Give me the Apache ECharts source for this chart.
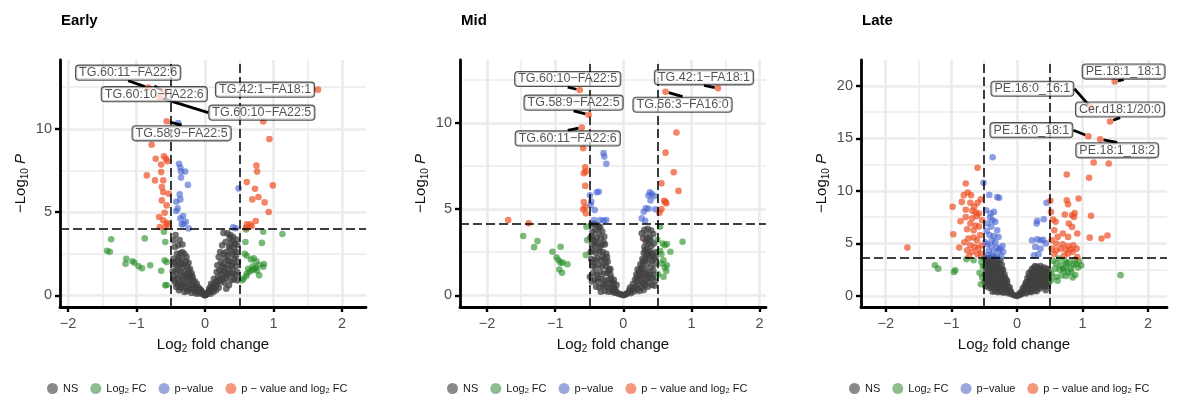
<!DOCTYPE html>
<html>
<head>
<meta charset="utf-8">
<script src="https://cdn.jsdelivr.net/npm/echarts@6/dist/echarts.min.js"></script>
<style>
  html, body { margin: 0; padding: 0; background: #ffffff; }
  #chart { width: 1191px; height: 400px; }
</style>
</head>
<body>
<div id="chart"></div>
<script>
// ---- Volcano data: [log2 fold change, -log10 p] ----
const panelTitles = ['Early', 'Mid', 'Late'];
const legendNames = ['NS', 'Log2 FC', 'p\u2212value', 'p \u2212 value and log2 FC'];
const xTicks = [-2, -1, 0, 1, 2];
const yTicksEarly = [0, 5, 10];
const yTicksMid = [0, 5, 10];
const yTicksLate = [0, 5, 10, 15, 20];
const fcCutoff = 0.5;
const pCutoffs = [4.0, 4.17, 3.66];

// Early
const earlyNS = [
  [-0.46,3.3],[-0.43,3.62],[-0.37,3.32],[-0.33,3.05],[-0.44,2.9],[-0.41,2.5],[-0.36,2.52],[-0.3,2.48],
  [-0.46,2.2],[-0.4,2.1],[-0.34,2.15],[-0.28,2.05],[-0.45,1.85],[-0.41,1.72],[-0.37,1.8],[-0.32,1.7],
  [-0.26,1.75],[-0.22,1.6],[-0.47,1.45],[-0.43,1.4],[-0.39,1.5],[-0.35,1.38],[-0.3,1.42],[-0.25,1.3],
  [-0.2,1.35],[-0.45,1.1],[-0.4,1.05],[-0.36,1.15],[-0.32,1.0],[-0.27,1.08],[-0.23,0.98],[-0.18,1.05],
  [-0.15,0.85],[-0.44,0.8],[-0.38,0.75],[-0.34,0.82],[-0.29,0.7],[-0.25,0.76],[-0.21,0.65],[-0.17,0.6],
  [-0.13,0.55],[-0.42,0.5],[-0.36,0.45],[-0.31,0.5],[-0.27,0.42],[-0.23,0.4],[-0.19,0.35],[-0.15,0.3],
  [-0.11,0.28],[-0.08,0.2],[-0.05,0.12],[-0.03,0.06],[-0.3,0.2],[-0.26,0.25],[-0.2,0.15],[-0.14,0.12],
  [-0.1,0.1],[-0.38,0.3],[-0.33,2.6],[-0.27,2.3],[-0.39,3.0],[-0.24,1.95],[-0.19,1.2],[-0.12,0.7],
  [-0.09,0.45],[-0.06,0.3],[-0.01,0.02],[0.0,0.0],[0.01,0.03],
  [-0.44,2.0],[-0.38,2.3],[-0.35,1.95],[-0.31,1.85],[-0.29,1.2],[-0.24,1.5],[-0.22,1.15],[-0.18,0.85],
  [-0.16,0.45],[-0.12,0.4],[-0.07,0.35],[-0.04,0.2],[-0.34,0.6],[-0.4,0.65],[-0.46,0.95],
  [0.02,0.05],[0.04,0.15],[0.06,0.25],[0.08,0.1],[0.1,0.35],[0.12,0.2],[0.14,0.5],[0.16,0.3],
  [0.11,0.6],[0.15,0.8],[0.18,0.65],[0.2,0.45],[0.22,0.9],[0.19,1.1],[0.24,1.25],[0.21,1.5],
  [0.26,1.05],[0.28,0.75],[0.25,1.7],[0.23,2.0],[0.27,1.9],[0.3,1.4],[0.32,1.15],[0.29,2.25],
  [0.31,2.6],[0.33,1.8],[0.35,1.55],[0.34,2.4],[0.36,2.05],[0.38,1.3],[0.4,1.6],[0.37,2.8],
  [0.39,2.5],[0.41,1.95],[0.43,2.2],[0.45,1.75],[0.42,2.9],[0.44,3.1],[0.46,2.6],[0.47,1.4],
  [0.4,3.3],[0.36,3.45],[0.3,3.2],[0.27,3.75],[0.33,3.72],[0.37,3.62],[0.41,3.5],[0.46,3.35],
  [0.25,3.0],[0.22,2.6],[0.2,2.3],[0.18,1.8],[0.17,1.4],[0.13,1.0],[0.09,0.7],[0.07,0.45],
  [0.48,2.0],[0.45,1.2],[0.42,0.95],[0.38,0.9],[0.35,0.6],[0.31,0.4],[0.47,0.9],
  [0.03,0.1],[0.06,0.35],[0.09,0.3],[0.13,0.4],[0.16,0.6],[0.19,0.9],[0.24,0.85],[0.26,1.45],
  [0.29,1.65],[0.33,2.1],[0.35,2.9],[0.38,3.1],[0.43,2.6],[0.45,2.35],[0.47,3.0],[0.39,1.8],
  [0.34,1.3],[0.3,1.0],[0.27,2.5],[0.42,1.3]
];
const earlyFC = [
  [-1.43,2.67],[-1.39,2.61],[-1.37,3.37],[-1.15,2.2],[-1.16,1.9],[-1.06,2.05],[-1.03,1.95],[-0.97,1.75],
  [-0.92,1.62],[-0.88,3.42],[-0.8,1.8],[-0.64,1.47],[-0.6,3.82],[-0.58,3.2],[-0.59,2.1],[-0.56,2.0],
  [-0.58,0.6],[-0.56,0.62],
  [0.6,3.95],[0.85,3.82],[1.13,3.68],[0.59,3.2],[0.83,3.15],[0.58,2.5],[0.61,2.38],[0.67,2.15],
  [0.71,2.22],[0.75,2.05],[0.79,1.82],[0.85,1.72],[0.86,1.88],[0.56,1.0],[0.61,1.3],[0.65,1.42],
  [0.68,1.52],[0.72,1.56],[0.76,1.48],[0.79,1.2],[0.54,0.9],[0.6,1.15],[0.63,1.6],[0.7,1.75],[0.74,1.65]
];
const earlyP = [
  [-0.39,10.34],[-0.38,7.9],[-0.36,7.67],[-0.35,7.43],[-0.29,7.43],[-0.35,7.07],[-0.25,6.63],[-0.37,6.06],
  [-0.42,5.62],[-0.36,5.76],[-0.4,5.22],[-0.42,5.06],[-0.32,4.76],[-0.36,4.62],[-0.28,4.42],[-0.34,4.26],
  [-0.31,4.28],[-0.24,4.02],
  [0.49,6.42],[0.41,4.08],[0.45,4.03]
];
const earlyBoth = [
  [-0.78,9.04],[-0.6,8.35],[-0.57,8.2],[-0.55,8.05],[-0.72,8.2],[-0.64,7.85],[-0.64,7.4],[-0.85,7.2],
  [-0.73,6.9],[-0.61,6.9],[-0.63,6.5],[-0.61,6.2],[-0.53,6.1],[-0.63,5.7],[-0.56,5.4],[-0.59,4.96],
  [-0.67,4.7],[-0.61,4.5],[-0.56,4.36],[-0.66,4.1],[-0.58,4.1],[-0.54,4.25],
  [0.85,10.44],[0.94,9.38],[0.75,7.8],[0.76,7.43],[0.61,6.8],[0.99,6.6],[0.73,6.4],[0.78,5.9],
  [0.69,5.76],[0.87,5.58],[0.93,5.0],[0.74,4.46],[0.61,4.26],[0.66,4.26],[0.68,4.15],[0.6,4.05]
];
const earlyLabels = [
  ['TG.60:11\u2212FA22:6', -0.83, 12.47],
  ['TG.60:10\u2212FA22:6', -0.58, 12.2],
  ['TG.60:10\u2212FA22:5', -0.66, 11.87],
  ['TG.58:9\u2212FA22:5', -0.56, 10.45],
  ['TG.42:1\u2212FA18:1', 1.65, 12.35]
];

// Mid
const midNS = [
  [-0.47,4.1],[-0.43,4.15],[-0.38,4.05],[-0.34,3.95],[-0.45,3.7],[-0.41,3.8],[-0.36,3.6],[-0.31,3.7],
  [-0.48,3.35],[-0.44,3.2],[-0.39,3.35],[-0.33,3.3],[-0.28,3.4],[-0.46,2.95],[-0.42,2.85],[-0.37,3.0],
  [-0.32,2.9],[-0.27,2.95],[-0.48,2.5],[-0.44,2.6],[-0.4,2.45],[-0.35,2.55],[-0.3,2.5],[-0.25,2.4],
  [-0.47,2.1],[-0.42,2.05],[-0.38,2.15],[-0.33,2.0],[-0.28,2.1],[-0.23,1.95],[-0.45,1.7],[-0.41,1.6],
  [-0.36,1.75],[-0.31,1.65],[-0.26,1.7],[-0.21,1.55],[-0.49,1.07],[-0.44,1.3],[-0.39,1.2],[-0.34,1.35],
  [-0.29,1.25],[-0.24,1.3],[-0.19,1.2],[-0.42,0.9],[-0.37,0.8],[-0.32,0.95],[-0.27,0.85],[-0.22,0.9],
  [-0.17,0.8],[-0.4,0.5],[-0.35,0.45],[-0.3,0.55],[-0.25,0.5],[-0.2,0.45],[-0.15,0.5],[-0.12,0.35],
  [-0.33,0.2],[-0.27,0.25],[-0.22,0.2],[-0.17,0.2],[-0.13,0.15],[-0.09,0.12],[-0.06,0.08],[-0.03,0.04],
  [-0.36,3.95],[-0.29,3.05],[-0.24,2.2],[-0.19,1.5],[-0.14,0.9],[-0.1,0.6],[0.0,0.0],
  [-0.46,3.45],[-0.41,3.1],[-0.35,2.75],[-0.31,2.25],[-0.26,1.9],[-0.22,1.4],[-0.18,1.0],[-0.14,0.7],
  [-0.11,0.25],[-0.37,1.0],[-0.43,1.9],[-0.46,0.8],[-0.28,0.65],[-0.2,0.65],[-0.16,0.35],
  [0.02,0.03],[0.05,0.1],[0.08,0.18],[0.11,0.12],[0.13,0.3],[0.16,0.22],[0.1,0.45],[0.14,0.65],
  [0.18,0.5],[0.21,0.35],[0.24,0.25],[0.17,0.9],[0.2,0.8],[0.23,0.6],[0.27,0.45],[0.3,0.3],
  [0.19,1.2],[0.22,1.1],[0.25,0.95],[0.28,0.8],[0.32,0.6],[0.36,0.5],[0.21,1.5],[0.24,1.4],
  [0.27,1.25],[0.3,1.1],[0.34,0.95],[0.38,0.75],[0.42,0.6],[0.25,1.8],[0.28,1.7],[0.31,1.55],
  [0.35,1.35],[0.39,1.2],[0.43,1.0],[0.47,0.85],[0.28,2.1],[0.32,2.0],[0.36,1.85],[0.4,1.6],
  [0.44,1.45],[0.3,2.45],[0.34,2.35],[0.38,2.2],[0.42,2.0],[0.46,1.8],[0.31,2.8],[0.35,2.7],
  [0.39,2.55],[0.43,2.4],[0.47,2.2],[0.33,3.1],[0.37,3.0],[0.41,2.85],[0.45,3.0],[0.29,3.3],
  [0.34,3.5],[0.39,3.35],[0.44,3.55],[0.31,3.8],[0.36,3.85],[0.41,3.75],[0.27,3.6],
  [0.04,0.06],[0.09,0.3],[0.15,0.4],[0.2,1.0],[0.23,1.3],[0.26,1.55],[0.29,1.95],[0.33,2.2],
  [0.37,2.45],[0.41,2.3],[0.45,2.1],[0.48,2.5],[0.4,3.2],[0.35,3.25],[0.32,2.6],[0.38,1.0],
  [0.44,1.2],[0.46,0.55],[0.33,1.25],[0.3,0.7]
];
const midFC = [
  [-1.47,3.43],[-1.26,3.14],[-1.31,2.79],[-0.92,2.81],[-1.04,2.52],[-0.98,2.19],[-0.95,2.03],[-0.92,1.88],
  [-0.89,1.9],[-0.82,1.8],[-0.94,1.49],[-0.9,1.3],[-0.54,3.97],[-0.53,3.2],[-0.55,2.33],
  [0.54,3.97],[0.5,3.2],[0.58,3.0],[0.69,2.52],[0.87,3.1],[0.61,2.9],[0.64,2.97],[0.54,2.58],
  [0.56,2.38],[0.59,2.03],[0.56,1.84],[0.64,1.74],[0.61,1.6],[0.51,1.22],[0.59,1.07],[0.63,1.4]
];
const midP = [
  [-0.29,8.24],[-0.28,8.04],[-0.25,7.62],[-0.39,5.97],[-0.36,6.0],[-0.49,5.8],[-0.47,5.43],[-0.48,5.23],
  [-0.42,4.94],[-0.43,4.36],[-0.34,4.36],[-0.29,4.33],[-0.25,4.36],
  [0.39,5.97],[0.42,5.87],[0.37,5.78],[0.4,5.5],[0.33,5.04],[0.37,5.02],[0.3,4.84],[0.47,4.98],
  [0.27,4.46],[0.32,4.32],[0.46,5.75]
];
const midBoth = [
  [-0.59,8.53],[-0.56,7.42],[-0.55,7.17],[-0.58,7.08],[-0.56,6.34],[-0.58,5.4],[-0.56,5.1],[-0.59,4.98],
  [-0.55,4.75],[-1.69,4.36],[-1.39,4.17],
  [0.78,9.44],[0.62,8.27],[0.74,7.13],[0.56,6.49],[0.81,6.05],[0.6,5.48],[0.63,5.33],[0.56,4.98],
  [0.53,4.79],[0.62,5.4]
];
const midLabels = [
  ['TG.60:10\u2212FA22:5', -0.64, 11.9],
  ['TG.58:9\u2212FA22:5', -0.51, 10.47],
  ['TG.60:11\u2212FA22:6', -0.61, 9.73],
  ['TG.42:1\u2212FA18:1', 1.39, 12.0],
  ['TG.56:3\u2212FA16:0', 0.62, 11.8]
];

// Late
const lateNS = [
  [-0.49,3.6],[-0.45,3.55],[-0.41,3.62],[-0.37,3.5],[-0.33,3.58],[-0.29,3.45],[-0.25,3.4],[-0.47,3.2],
  [-0.43,3.25],[-0.39,3.15],[-0.35,3.2],[-0.31,3.1],[-0.27,3.05],[-0.23,2.95],[-0.49,2.8],[-0.45,2.85],
  [-0.41,2.75],[-0.37,2.8],[-0.33,2.7],[-0.29,2.75],[-0.25,2.6],[-0.21,2.5],[-0.47,2.4],[-0.43,2.35],
  [-0.39,2.45],[-0.35,2.3],[-0.31,2.4],[-0.27,2.25],[-0.23,2.2],[-0.19,2.05],[-0.49,2.0],[-0.45,1.95],
  [-0.41,2.05],[-0.37,1.9],[-0.33,2.0],[-0.29,1.85],[-0.25,1.9],[-0.21,1.75],[-0.17,1.6],[-0.47,1.6],
  [-0.43,1.55],[-0.39,1.65],[-0.35,1.5],[-0.31,1.6],[-0.27,1.45],[-0.23,1.5],[-0.19,1.35],[-0.15,1.2],
  [-0.45,1.2],[-0.41,1.15],[-0.37,1.25],[-0.33,1.1],[-0.29,1.2],[-0.25,1.05],[-0.21,1.1],[-0.17,0.95],
  [-0.13,0.85],[-0.43,0.8],[-0.39,0.75],[-0.35,0.85],[-0.31,0.7],[-0.27,0.75],[-0.23,0.65],[-0.19,0.7],
  [-0.15,0.55],[-0.11,0.5],[-0.37,0.4],[-0.33,0.45],[-0.29,0.35],[-0.25,0.4],[-0.21,0.3],[-0.17,0.35],
  [-0.13,0.25],[-0.09,0.22],[-0.06,0.12],[-0.03,0.05],[-0.48,0.95],[0.0,0.0],
  [-0.47,3.45],[-0.43,3.0],[-0.39,3.4],[-0.35,2.6],[-0.31,2.95],[-0.27,2.5],[-0.23,2.45],[-0.19,1.8],
  [-0.15,1.45],[-0.11,0.8],[-0.41,1.4],[-0.37,2.15],[-0.33,1.3],[-0.29,1.0],[-0.25,1.25],[-0.21,0.9],
  [-0.45,2.55],[-0.49,1.35],[-0.09,0.4],
  [0.02,0.04],[0.05,0.12],[0.08,0.2],[0.11,0.3],[0.14,0.25],[0.07,0.4],[0.1,0.55],[0.13,0.7],
  [0.16,0.5],[0.19,0.4],[0.22,0.35],[0.12,0.9],[0.15,1.05],[0.18,0.85],[0.21,0.7],[0.24,0.6],
  [0.27,0.5],[0.3,0.45],[0.14,1.3],[0.17,1.4],[0.2,1.2],[0.23,1.05],[0.26,0.95],[0.29,0.85],
  [0.32,0.75],[0.35,0.7],[0.16,1.7],[0.19,1.85],[0.22,1.6],[0.25,1.5],[0.28,1.35],[0.31,1.25],
  [0.34,1.15],[0.37,1.05],[0.4,0.95],[0.43,0.85],[0.18,2.15],[0.21,2.3],[0.24,2.05],[0.27,1.95],
  [0.3,1.8],[0.33,1.7],[0.36,1.6],[0.39,1.5],[0.42,1.4],[0.45,1.3],[0.48,1.2],[0.23,2.55],
  [0.26,2.7],[0.29,2.4],[0.32,2.3],[0.35,2.15],[0.38,2.0],[0.41,1.9],[0.44,1.8],[0.47,1.7],
  [0.28,2.85],[0.31,2.75],[0.34,2.6],[0.37,2.5],[0.4,2.4],[0.43,2.3],[0.46,2.2],[0.49,2.1],
  [0.36,2.85],[0.41,2.7],[0.45,2.6],[0.48,2.5],[0.47,0.95],[0.44,0.55],
  [0.04,0.25],[0.09,0.75],[0.13,1.1],[0.18,1.1],[0.22,1.35],[0.26,1.25],[0.3,1.55],[0.34,1.9],
  [0.38,2.3],[0.42,2.15],[0.46,1.9],[0.49,1.6],[0.33,2.45],[0.25,2.3],[0.2,1.6],[0.39,1.25],[0.44,1.1]
];
const lateFC = [
  [-1.25,2.92],[-1.2,2.6],[-0.96,2.29],[-0.94,2.44],[-0.77,3.49],[-0.66,3.4],[-0.54,3.24],[-0.52,2.8],
  [-0.53,1.75],[-0.55,1.11],[-0.57,2.2],
  [0.55,3.33],[0.6,3.08],[0.67,2.92],[0.76,3.1],[0.8,3.2],[0.86,2.95],[0.9,3.05],[0.98,2.9],
  [0.72,2.4],[0.78,2.2],[0.83,2.3],[0.89,2.0],[0.53,2.1],[0.6,1.8],[0.7,2.6],[0.75,2.75],
  [0.82,2.6],[0.93,2.7],[0.65,2.5],[0.58,2.6],[0.68,1.95],[0.75,1.9],[0.85,1.75],[0.52,1.5],
  [0.62,1.45],[1.58,1.98],[0.95,3.3],[0.73,3.35],[0.88,3.45],[0.64,3.55]
];
const lateP = [
  [-0.37,13.2],[-0.51,10.76],[-0.42,9.6],[-0.3,9.4],[-0.27,9.35],[-0.47,8.16],[-0.35,8.0],[-0.4,7.85],
  [-0.41,7.46],[-0.37,7.2],[-0.33,7.05],[-0.45,6.9],[-0.39,6.6],[-0.3,6.25],[-0.42,5.8],[-0.35,5.7],
  [-0.28,5.6],[-0.38,5.3],[-0.45,4.9],[-0.39,4.75],[-0.31,4.6],[-0.22,4.75],[-0.43,4.3],[-0.36,4.2],
  [-0.28,4.3],[-0.21,4.2],[-0.37,3.8],[-0.3,3.75],[-0.24,3.78],[-0.48,5.1],[-0.46,6.2],[-0.33,5.1],
  [-0.26,4.5],[-0.44,3.9],
  [0.45,8.86],[0.41,7.3],[0.31,7.14],[0.3,6.9],[0.23,5.3],[0.31,5.4],[0.36,5.3],[0.4,5.35],
  [0.28,4.67],[0.36,4.5],[0.26,3.87],[0.33,3.97],[0.44,5.0]
];
const lateBoth = [
  [-0.6,12.19],[-0.78,10.7],[-0.75,9.84],[-0.81,9.59],[-0.7,9.59],[-0.98,8.48],[-0.84,8.95],[-0.71,8.86],
  [-0.6,8.86],[-0.78,8.2],[-0.68,8.1],[-0.63,7.95],[-0.58,7.85],[-0.78,7.5],[-0.68,7.4],[-0.61,7.6],
  [-0.71,6.9],[-0.63,6.7],[-0.58,6.6],[-0.76,6.35],[-0.66,6.25],[-0.97,5.87],[-0.74,5.46],[-0.66,5.56],
  [-0.61,5.3],[-0.71,4.83],[-0.64,4.67],[-0.59,4.5],[-1.67,4.6],[-0.76,4.35],[-0.68,4.2],[-0.6,3.97],
  [-0.55,4.03],[-0.8,5.1],[-0.56,5.8],[-0.53,7.2],[-0.65,8.5],[-0.55,9.2],[-0.86,7.1],[-0.88,4.6],
  [-0.73,3.8],[-0.54,4.8],
  [0.76,11.56],[1.1,11.24],[1.17,12.7],[1.4,12.6],[0.51,9.05],[0.76,9.11],[0.78,8.73],[0.94,9.27],
  [0.73,7.75],[0.84,7.68],[0.87,7.52],[1.13,7.62],[0.55,7.27],[0.59,7.05],[0.79,6.9],[0.84,6.57],
  [1.11,5.55],[1.29,5.46],[1.38,5.75],[0.57,6.25],[0.62,5.62],[0.7,5.94],[0.78,5.62],[0.53,5.3],
  [0.6,4.98],[0.7,4.92],[0.78,4.73],[0.86,4.83],[0.91,4.5],[0.53,4.5],[0.6,4.35],[0.67,4.5],
  [0.75,4.4],[0.82,4.45],[0.92,3.71],[0.57,3.97],[0.78,4.03],[0.52,8.0],[0.88,7.9],[0.92,5.94],
  [0.85,4.2],[0.72,3.85]
];
const lateLabels = [
  ['PE.18:1_18:1', 1.49, 20.4],
  ['PE.16:0_16:1', 1.12, 18.0],
  ['Cer.d18:1/20:0', 1.42, 16.6],
  ['PE.16:0_18:1', 1.09, 15.2],
  ['PE.18:1_18:2', 1.27, 14.9]
];

// ---- Layout and styling ----
const FONT = '"Liberation Sans", Arial, Helvetica, sans-serif';
const COLORS = { ns: '#404040', fc: '#228b22', p: '#3f5fcf', both: '#ee4a1e' };
const OPAC = { ns: 0.75, fc: 0.6, p: 0.6, both: 0.68 };
const LEGEND_COLORS = ['#8a8a8a', '#8fbd8f', '#9ba8dc', '#f4977a'];

// label box offsets (pixels from the point to the box centre), per panel
const labelNudges = [
  { 'TG.60:11\u2212FA22:6': [-20, -15], 'TG.60:10\u2212FA22:6': [-11, 2], 'TG.60:10\u2212FA22:5': [102, 15],
    'TG.58:9\u2212FA22:5': [15, 12], 'TG.42:1\u2212FA18:1': [-53, 0] },
  { 'TG.60:10\u2212FA22:5': [-12, -11], 'TG.58:9\u2212FA22:5': [-15, -12], 'TG.60:11\u2212FA22:6': [-14, 11],
    'TG.42:1\u2212FA18:1': [-14, -11], 'TG.56:3\u2212FA16:0': [17, 13] },
  { 'PE.18:1_18:1': [9, -10], 'PE.16:0_16:1': [-58, -18], 'Cer.d18:1/20:0': [10, -12],
    'PE.16:0_18:1': [-57, -6], 'PE.18:1_18:2': [17, 11] }
];

const frames = [
  { grid: { left: 60, top: 60, width: 306, height: 247 }, x: [-2.117, 2.35], y: [-0.70, 14.13], yTicks: yTicksEarly, legendLeft: 42 },
  { grid: { left: 460, top: 60, width: 306, height: 247 }, x: [-2.398, 2.095], y: [-0.68, 13.64], yTicks: yTicksMid, legendLeft: 442 },
  { grid: { left: 861, top: 60, width: 306, height: 247 }, x: [-2.377, 2.288], y: [-1.05, 22.45], yTicks: yTicksLate, legendLeft: 844 }
];

const panelData = [
  { ns: earlyNS, fc: earlyFC, p: earlyP, both: earlyBoth, labels: earlyLabels },
  { ns: midNS, fc: midFC, p: midP, both: midBoth, labels: midLabels },
  { ns: lateNS, fc: lateFC, p: lateP, both: lateBoth, labels: lateLabels }
];

const minus = v => (v < 0 ? '\u2212' + Math.abs(v) : String(v));
const subFormat = s => s.replace(/([Ll]og)2/, '$1{sub|2}');

function axisBase(range, ticks, isX) {
  return {
    type: 'value',
    min: range[0],
    max: range[1],
    minInterval: isX ? 1 : 5,
    maxInterval: isX ? 1 : 5,
    axisLine: { show: true, onZero: false, lineStyle: { color: '#000', width: 2.8 } },
    axisTick: { show: true, length: 5, lineStyle: { color: '#000', width: 2.4 }, customValues: ticks },
    axisLabel: { customValues: ticks, formatter: minus, color: '#4d4d4d', fontSize: 14.5, fontFamily: FONT, margin: isX ? 9 : 8 },
    splitLine: { show: true, lineStyle: { color: '#ebebeb', width: 2.6 } },
    minorTick: { show: false, splitNumber: 2 },
    minorSplitLine: { show: true, lineStyle: { color: '#ebebeb', width: 1.5 } }
  };
}

const grids = [], xAxes = [], yAxes = [], series = [], titles = [], legends = [];

frames.forEach((f, i) => {
  grids.push(Object.assign({ containLabel: false }, f.grid));
  xAxes.push(Object.assign(axisBase(f.x, xTicks, true), {
    gridIndex: i,
    name: 'Log{sub|2} fold change',
    nameLocation: 'middle',
    nameGap: 27,
    nameTextStyle: { color: '#111', fontSize: 15, fontFamily: FONT, lineHeight: 18,
      rich: { sub: { fontSize: 10, verticalAlign: 'bottom', fontFamily: FONT, color: '#111' } } }
  }));
  yAxes.push(Object.assign(axisBase(f.y, f.yTicks, false), {
    gridIndex: i,
    name: '\u2212Log{sub|10} {it|P}',
    nameLocation: 'middle',
    nameRotate: 90,
    nameGap: 30,
    nameTextStyle: { color: '#111', fontSize: 15, fontFamily: FONT, lineHeight: 18,
      rich: { sub: { fontSize: 10, verticalAlign: 'bottom', fontFamily: FONT, color: '#111' },
              it: { fontSize: 15, fontStyle: 'italic', fontFamily: FONT, color: '#111' } } }
  }));
  titles.push({
    text: panelTitles[i], left: f.grid.left + 1, top: 13, padding: 0,
    textStyle: { fontSize: 15, fontWeight: 'bold', color: '#000', fontFamily: FONT }
  });
  legends.push({
    left: f.legendLeft, top: 377, orient: 'horizontal',
    itemWidth: 11, itemHeight: 11, itemGap: 12, icon: 'circle', selectedMode: false,
    data: legendNames.map((n, k) => ({ name: n, itemStyle: { color: LEGEND_COLORS[k], opacity: 1 } })),
    formatter: subFormat,
    textStyle: { fontSize: 11, color: '#1a1a1a', fontFamily: FONT, lineHeight: 13,
      rich: { sub: { fontSize: 7.5, verticalAlign: 'bottom', fontFamily: FONT, color: '#1a1a1a' } } }
  });

  const d = panelData[i];
  const mk = (name, data, key, z) => ({
    type: 'scatter', name, xAxisIndex: i, yAxisIndex: i, data,
    symbol: 'circle', symbolSize: 6.6, z, silent: true,
    itemStyle: { color: COLORS[key], opacity: OPAC[key] },
    emphasis: { disabled: true }
  });
  series.push(mk(legendNames[0], d.ns, 'ns', 2));
  series.push(mk(legendNames[1], d.fc, 'fc', 3));
  series.push(mk(legendNames[2], d.p, 'p', 3));
  series.push(mk(legendNames[3], d.both, 'both', 3));

  // cut-off lines
  series.push({
    type: 'scatter', xAxisIndex: i, yAxisIndex: i, data: [], z: 4, silent: true,
    markLine: {
      silent: true, symbol: ['none', 'none'], label: { show: false }, animation: false,
      lineStyle: { color: '#000', width: 1.5, type: [9, 4] },
      emphasis: { disabled: true },
      data: [{ xAxis: -fcCutoff }, { xAxis: fcCutoff }, { yAxis: pCutoffs[i] }]
    }
  });

  // labelled lipids
  const nudge = labelNudges[i];
  const lab = mk(legendNames[3], d.labels.map(r => ({ name: r[0], value: [r[1], r[2]] })), 'both', 6);
  lab.label = {
    show: true, position: 'inside', formatter: '{b}',
    fontSize: 12.5, fontFamily: FONT, color: '#000',
    backgroundColor: '#fff', borderColor: '#000', borderWidth: 1.1, borderRadius: 3,
    padding: [1, 3, 0, 3]
  };
  lab.labelLine = { show: true, lineStyle: { color: '#000', width: 2.8 } };
  lab.labelLayout = p => {
    const o = nudge[p.text] || [0, 0];
    return { dx: o[0], dy: o[1] };
  };
  series.push(lab);
});

const chart = echarts.init(document.getElementById('chart'), null, { renderer: 'canvas' });
chart.setOption({
  backgroundColor: '#ffffff',
  animation: false,
  textStyle: { fontFamily: FONT },
  title: titles,
  legend: legends,
  grid: grids,
  xAxis: xAxes,
  yAxis: yAxes,
  series: series
});
</script>
</body>
</html>
